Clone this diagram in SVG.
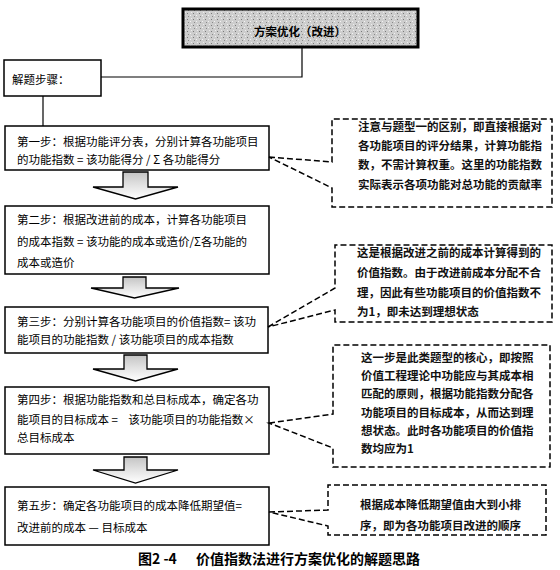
<svg xmlns="http://www.w3.org/2000/svg" width="560" height="570" viewBox="0 0 560 570">
<defs>
<pattern id="speck" width="6" height="6" patternUnits="userSpaceOnUse">
<rect width="6" height="6" fill="#cdcdcd"/>
<rect x="1" y="1" width="1" height="1" fill="#7a7a7a"/>
<rect x="4" y="3" width="1" height="1" fill="#f2f2f2"/>
<rect x="2" y="4" width="1" height="1" fill="#8a8a8a"/>
<rect x="5" y="0" width="1" height="1" fill="#ececec"/>
</pattern>
<linearGradient id="arrowFill" x1="0" y1="0" x2="0" y2="1">
<stop offset="0" stop-color="#c4c4c4"/>
<stop offset="0.45" stop-color="#e0e0e0"/>
<stop offset="1" stop-color="#ffffff"/>
</linearGradient>
</defs>
<style>
.box{fill:#fff;stroke:#000;stroke-width:1.5}
.top{fill:url(#speck);stroke:#000;stroke-width:3}
.call{fill:#fff;stroke:#000;stroke-width:1.5;stroke-dasharray:6 3;stroke-linejoin:miter}
.arr{fill:url(#arrowFill);stroke:#000;stroke-width:1.3;stroke-linejoin:miter}
.line{fill:none;stroke:#000;stroke-width:1.2}
.t{font-family:"Noto Sans CJK SC","Liberation Sans",sans-serif;font-size:11.5px;fill:#000}
.c{font-family:"Noto Sans CJK SC","Liberation Sans",sans-serif;font-size:11.5px;font-weight:bold;fill:#111}
.cap{font-family:"Noto Sans CJK SC","Liberation Sans",sans-serif;font-size:14px;font-weight:bold;fill:#000}
</style>
<rect width="560" height="570" fill="#fff"/>

<g id="connectors">
<polyline class="line" points="302,47 302,77 101,77"/>
<line class="line" x1="43" y1="96" x2="43" y2="126"/>
<path class="arr" d="M123,172 H148 V187 H178 L135.5,199 L93,187 H123 Z"/>
<path class="arr" d="M123,277 H146 V288 H179 L134.5,298 L91,288 H123 Z"/>
<path class="arr" d="M124,355 H147 V369 H178 L135.5,381 L93,369 H124 Z"/>
<path class="arr" d="M124,457 H147 V470 H178 L135.5,483 L93,470 H124 Z"/>
</g>

<g id="node-top">
<rect class="top" x="183" y="9" width="235" height="38"/>
<text class="t" x="300" y="36" text-anchor="middle" font-weight="bold" font-size="12">方案优化（改进）</text>
</g>

<g id="node-steps">
<rect class="box" x="4" y="60" width="97" height="36"/>
<text class="t" x="12" y="84" font-size="11">解题步骤：</text>
</g>

<g id="node-step1">
<rect class="box" x="5" y="126" width="264" height="44"/>
<text class="t" x="17" y="146">第一步：根据功能评分表，分别计算各功能项目</text>
<text class="t" x="17" y="164" xml:space="preserve">的功能指数 = 该功能得分 / Σ 各功能得分</text>
</g>

<g id="node-step2">
<rect class="box" x="5" y="206" width="264" height="68"/>
<text class="t" x="17" y="224">第二步：根据改进前的成本，计算各功能项目</text>
<text class="t" x="17" y="246" xml:space="preserve">的成本指数 = 该功能的成本或造价/Σ各功能的</text>
<text class="t" x="17" y="267">成本或造价</text>
</g>

<g id="node-step3">
<rect class="box" x="5" y="307" width="263" height="46"/>
<text class="t" x="17" y="326" xml:space="preserve">第三步：分别计算各功能项目的价值指数= 该功</text>
<text class="t" x="17" y="344" xml:space="preserve">能项目的功能指数 / 该功能项目的成本指数</text>
</g>

<g id="node-step4">
<rect class="box" x="5" y="387" width="264" height="67"/>
<text class="t" x="17" y="404">第四步：根据功能指数和总目标成本，确定各功</text>
<text class="t" x="17" y="424" xml:space="preserve">能项目的目标成本 =    该功能项目的功能指数×</text>
<text class="t" x="17" y="442">总目标成本</text>
</g>

<g id="node-step5">
<rect class="box" x="5" y="487" width="264" height="58"/>
<text class="t" x="17" y="510">第五步：确定各功能项目的成本降低期望值=</text>
<text class="t" x="17" y="532" xml:space="preserve">改进前的成本 — 目标成本</text>
</g>

<g id="node-note1">
<path class="call" d="M269,157 L332,162 L332,119 L552,119 L552,207 L332,207 L332,188 Z"/>
<text class="c" x="358" y="131">注意与题型一的区别，即直接根据对</text>
<text class="c" x="358" y="150">各功能项目的评分结果，计算功能指</text>
<text class="c" x="358" y="169">数，不需计算权重。这里的功能指数</text>
<text class="c" x="358" y="189">实际表示各项功能对总功能的贡献率</text>
</g>

<g id="node-note2">
<path class="call" d="M268,327 L335,288 L335,245 L552,245 L552,322 L335,322 L335,310 Z"/>
<text class="c" x="357" y="257">这是根据改进之前的成本计算得到的</text>
<text class="c" x="357" y="277">价值指数。由于改进前成本分配不合</text>
<text class="c" x="357" y="297">理，因此有些功能项目的价值指数不</text>
<text class="c" x="357" y="316">为1，即未达到理想状态</text>
</g>

<g id="node-note3">
<path class="call" d="M269,423 L333,414 L333,345 L550,345 L550,467 L333,467 L333,448 Z"/>
<text class="c" x="361" y="362">这一步是此类题型的核心，即按照</text>
<text class="c" x="361" y="380">价值工程理论中功能应与其成本相</text>
<text class="c" x="361" y="398">匹配的原则，根据功能指数分配各</text>
<text class="c" x="361" y="417">功能项目的目标成本，从而达到理</text>
<text class="c" x="361" y="435">想状态。此时各功能项目的价值指</text>
<text class="c" x="361" y="453">数均应为1</text>
</g>

<g id="node-note5">
<path class="call" d="M269,512 L328,510 L328,485 L546,485 L546,535 L328,535 L328,526 Z"/>
<text class="c" x="360" y="509">根据成本降低期望值由大到小排</text>
<text class="c" x="360" y="530">序，即为各功能项目改进的顺序</text>
</g>

<g id="caption">
<text class="cap" x="138" y="564" xml:space="preserve">图2 -4</text>
<text class="cap" x="196" y="564">价值指数法进行方案优化的解题思路</text>
</g>
</svg>
